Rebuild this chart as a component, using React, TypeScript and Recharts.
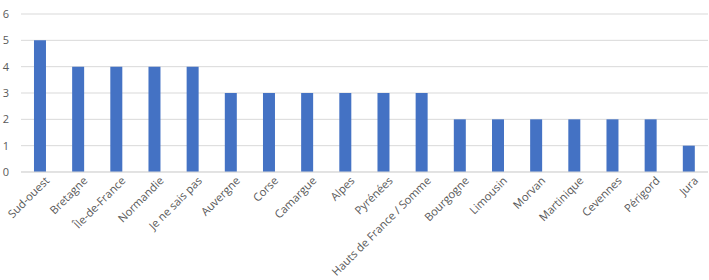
import React from 'react';
import { BarChart, Bar, XAxis, YAxis, CartesianGrid } from 'recharts';

const categories = ['Sud-ouest', 'Bretagne', 'Île-de-France', 'Normandie', 'Je ne sais pas', 'Auvergne', 'Corse', 'Camargue', 'Alpes', 'Pyrénées', 'Hauts de France / Somme', 'Bourgogne', 'Limousin', 'Morvan', 'Martinique', 'Cevennes', 'Périgord', 'Jura'];
const values = [5, 4, 4, 4, 4, 3, 3, 3, 3, 3, 3, 2, 2, 2, 2, 2, 2, 1];
const yTicks = [0, 1, 2, 3, 4, 5, 6];

const data = categories.map((name, i) => ({ name, value: values[i] }));

const FONT = '"Open Sans", "Noto Sans", sans-serif';

const XTick = (props: any) => {
  const { x, y, payload } = props;
  return (
    <g transform={`translate(${x},${y})`}>
      <text x={0} y={0} dx={6} dy={8} textAnchor="end" fill="#595959" fontSize={11.2} fontFamily={FONT} transform="rotate(-45)">
        {payload.value}
      </text>
    </g>
  );
};

export default function App() {
  return (
    <div style={{ position: 'absolute', left: 0, top: 0, width: 709, height: 280, background: '#fff' }}>
      <BarChart width={709} height={280} data={data} margin={{ top: 14, right: 1, left: 0, bottom: 0 }} barCategoryGap="34%">
        <CartesianGrid vertical={false} stroke="#D9D9D9" />
        <XAxis dataKey="name" interval={0} tickLine={false} axisLine={{ stroke: '#D9D9D9' }} height={108} tick={<XTick />} />
        <YAxis width={21} domain={[0, 6]} ticks={yTicks} tickLine={false} axisLine={false} tick={{ fill: '#595959', fontSize: 11, fontFamily: FONT }} tickMargin={6} />
        <Bar dataKey="value" fill="#4472C4" isAnimationActive={false} />
      </BarChart>
    </div>
  );
}
